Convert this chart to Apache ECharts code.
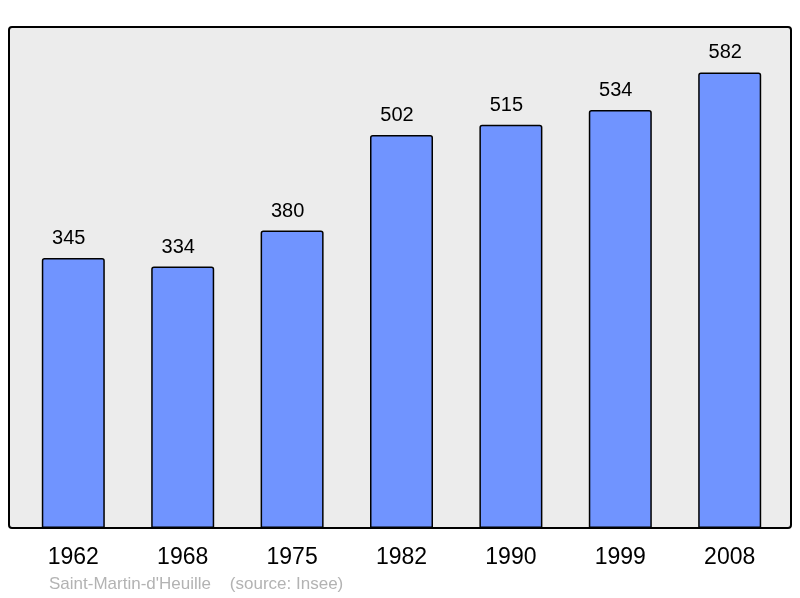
<!DOCTYPE html>
<html>
<head>
<meta charset="utf-8">
<script src="https://cdn.jsdelivr.net/npm/echarts@6/dist/echarts.min.js"></script>
<style>html,body{margin:0;padding:0;background:#fff;}#chart{width:800px;height:598px;}</style>
</head>
<body>
<div id="chart"></div>
<script>
var years = ['1962', '1968', '1975', '1982', '1990', '1999', '2008'];
var population = [345, 334, 380, 502, 515, 534, 582];
var footer = "Saint-Martin-d'Heuille    (source: Insee)";

var chart = echarts.init(document.getElementById('chart'), null, {renderer: 'canvas'});
chart.setOption({
  animation: false,
  backgroundColor: '#ffffff',
  textStyle: {fontFamily: 'Liberation Sans, Arial, sans-serif'},
  title: {
    text: footer,
    left: 49, top: 575.5,
    padding: 0,
    textStyle: {fontSize: 17, fontWeight: 'normal', color: '#b3b3b3', fontFamily: 'Liberation Sans, Arial, sans-serif'}
  },
  graphic: [
    {type: 'rect', z: -10, silent: true,
     shape: {x: 9, y: 27, width: 782, height: 501, r: 3},
     style: {fill: '#ececec', stroke: 'none'}},
    {type: 'rect', z: 100, silent: true,
     shape: {x: 9, y: 27, width: 782, height: 501, r: 3},
     style: {fill: 'none', stroke: '#000', lineWidth: 2}}
  ],
  grid: {left: 18.6, right: 15.6, top: 27, bottom: 70, containLabel: false},
  xAxis: {
    type: 'category',
    data: years,
    axisLine: {show: false},
    axisTick: {show: false},
    axisLabel: {fontSize: 23, color: '#000', margin: 18.5, fontFamily: 'Liberation Sans, Arial, sans-serif'}
  },
  yAxis: {
    type: 'value', min: 0, max: 640,
    show: false,
    splitLine: {show: false}
  },
  series: [{
    type: 'bar',
    data: population,
    barWidth: 63,
    itemStyle: {color: '#7094ff', borderColor: '#000', borderWidth: 1.5, borderRadius: [2, 2, 0, 0]},
    label: {show: true, position: 'top', distance: 9.5, offset: [-4.5, 0], fontSize: 20, color: '#000', fontFamily: 'Liberation Sans, Arial, sans-serif'}
  }]
});
</script>
</body>
</html>
